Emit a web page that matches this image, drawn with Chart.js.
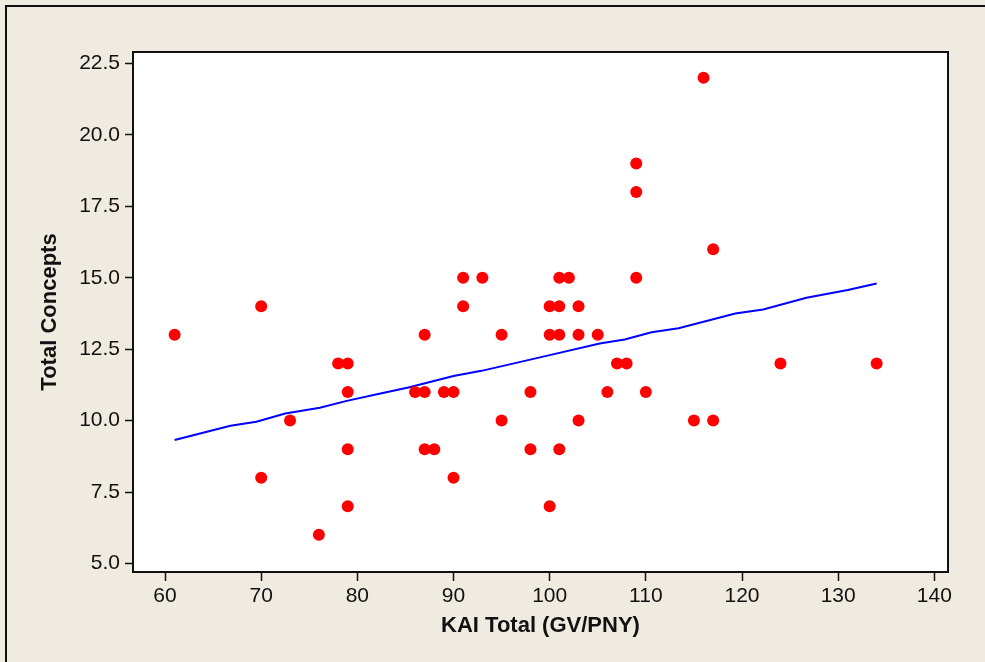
<!DOCTYPE html>
<html>
<head>
<meta charset="utf-8">
<script src="https://cdn.jsdelivr.net/npm/chart.js@4/dist/chart.umd.min.js"></script>
<style>
    body { margin: 0; background: #efebe1; }
    canvas { display: block; }
</style>
</head>
<body>
<canvas id="chart" width="985" height="662"></canvas>
<script>
// KAI total vs. total concepts, one entry per subject
const kaiTotal = [
    61, 70, 70, 73, 76, 78, 79, 79, 79, 79,
    86, 87, 87, 87, 88, 89, 90, 90, 91, 91,
    93, 95, 95, 98, 98, 100, 100, 100, 101, 101,
    101, 101, 102, 103, 103, 103, 105, 106, 107, 108,
    109, 109, 109, 110, 115, 116, 117, 117, 124, 134
];
const totalConcepts = [
    13, 14, 8, 10, 6, 12, 12, 11, 9, 7,
    11, 13, 11, 9, 9, 11, 11, 8, 15, 14,
    15, 13, 10, 11, 9, 14, 13, 7, 15, 14,
    13, 9, 15, 14, 13, 10, 13, 11, 12, 12,
    19, 18, 15, 11, 10, 22, 16, 10, 12, 12
];

// fitted line, vertices
const fitX = [61, 66.8, 69.5, 72.5, 76.1, 78.9, 82.4, 85.3, 90.0, 92.9, 95.5,
              100.0, 105.2, 107.8, 110.6, 113.4, 119.3, 122.2, 126.7, 131.0, 134.0];
const fitY = [9.32, 9.82, 9.96, 10.25, 10.45, 10.69, 10.95, 11.16, 11.56, 11.74, 11.94,
              12.29, 12.70, 12.84, 13.09, 13.23, 13.75, 13.89, 14.30, 14.57, 14.80];

const xTicks = [60, 70, 80, 90, 100, 110, 120, 130, 140];
const yTicks = [5.0, 7.5, 10.0, 12.5, 15.0, 17.5, 20.0, 22.5];

const FONT = "'Liberation Sans', Arial, sans-serif";

/**
 * Beige page with a frame, white plot area with a black box
 */
const framePlugin = {
    id: 'framePlugin',
    beforeDraw: function(chart) {
        const ctx = chart.ctx;
        const a = chart.chartArea;
        ctx.save();
        ctx.fillStyle = '#efebe1';
        ctx.fillRect(0, 0, chart.width, chart.height);
        ctx.strokeStyle = '#111';
        ctx.lineWidth = 2;
        ctx.beginPath();
        ctx.moveTo(6, chart.height);
        ctx.lineTo(6, 6);
        ctx.lineTo(chart.width, 6);
        ctx.stroke();
        ctx.fillStyle = '#ffffff';
        ctx.fillRect(a.left, a.top, a.right - a.left, a.bottom - a.top);
        ctx.restore();
    },
    afterDraw: function(chart) {
        const ctx = chart.ctx;
        const a = chart.chartArea;
        ctx.save();
        ctx.strokeStyle = '#111';
        ctx.lineWidth = 2;
        ctx.strokeRect(a.left, a.top, a.right - a.left, a.bottom - a.top);
        ctx.restore();
    }
};

const points = kaiTotal.map((x, i) => ({ x: x, y: totalConcepts[i] }));
const fitLine = fitX.map((x, i) => ({ x: x, y: fitY[i] }));

new Chart(document.getElementById('chart').getContext('2d'), {
    type: 'scatter',
    data: {
        datasets: [
            {
                label: 'Total Concepts',
                data: points,
                backgroundColor: '#ff0000',
                borderWidth: 0,
                pointRadius: 6,
                pointHoverRadius: 6
            },
            {
                type: 'line',
                label: 'Fit',
                data: fitLine,
                borderColor: '#0000ff',
                borderWidth: 2,
                pointRadius: 0,
                fill: false,
                tension: 0
            }
        ]
    },
    options: {
        responsive: false,
        animation: false,
        layout: { padding: { left: 0, right: 37, top: 52, bottom: 0 } },
        plugins: {
            legend: { display: false },
            tooltip: { enabled: false }
        },
        scales: {
            x: {
                type: 'linear',
                min: 56.67,
                max: 141.42,
                afterBuildTicks: function(scale) {
                    scale.ticks = xTicks.map(v => ({ value: v }));
                },
                afterFit: function(scale) {
                    scale.height = 90;
                },
                ticks: {
                    color: '#111',
                    font: { family: FONT, size: 21 },
                    padding: 3,
                    maxRotation: 0
                },
                grid: {
                    display: true,
                    drawOnChartArea: false,
                    drawTicks: true,
                    tickLength: 9,
                    tickColor: '#111',
                    tickWidth: 1.5
                },
                border: { display: false },
                title: {
                    display: true,
                    text: 'KAI Total (GV/PNY)',
                    color: '#111',
                    font: { family: FONT, size: 22, weight: 'bold' },
                    padding: { top: 0, bottom: 23 }
                }
            },
            y: {
                type: 'linear',
                min: 4.7,
                max: 22.9,
                afterBuildTicks: function(scale) {
                    scale.ticks = yTicks.map(v => ({ value: v }));
                },
                afterFit: function(scale) {
                    scale.width = 133;
                },
                ticks: {
                    color: '#111',
                    font: { family: FONT, size: 21 },
                    padding: 5,
                    callback: function(value) {
                        return Number(value).toFixed(1);
                    }
                },
                grid: {
                    display: true,
                    drawOnChartArea: false,
                    drawTicks: true,
                    tickLength: 8,
                    tickColor: '#111',
                    tickWidth: 1.5
                },
                border: { display: false },
                title: {
                    display: true,
                    text: 'Total Concepts',
                    color: '#111',
                    font: { family: FONT, size: 22, weight: 'bold' },
                    padding: { top: 37, bottom: 0 }
                }
            }
        }
    },
    plugins: [framePlugin]
});
</script>
</body>
</html>
